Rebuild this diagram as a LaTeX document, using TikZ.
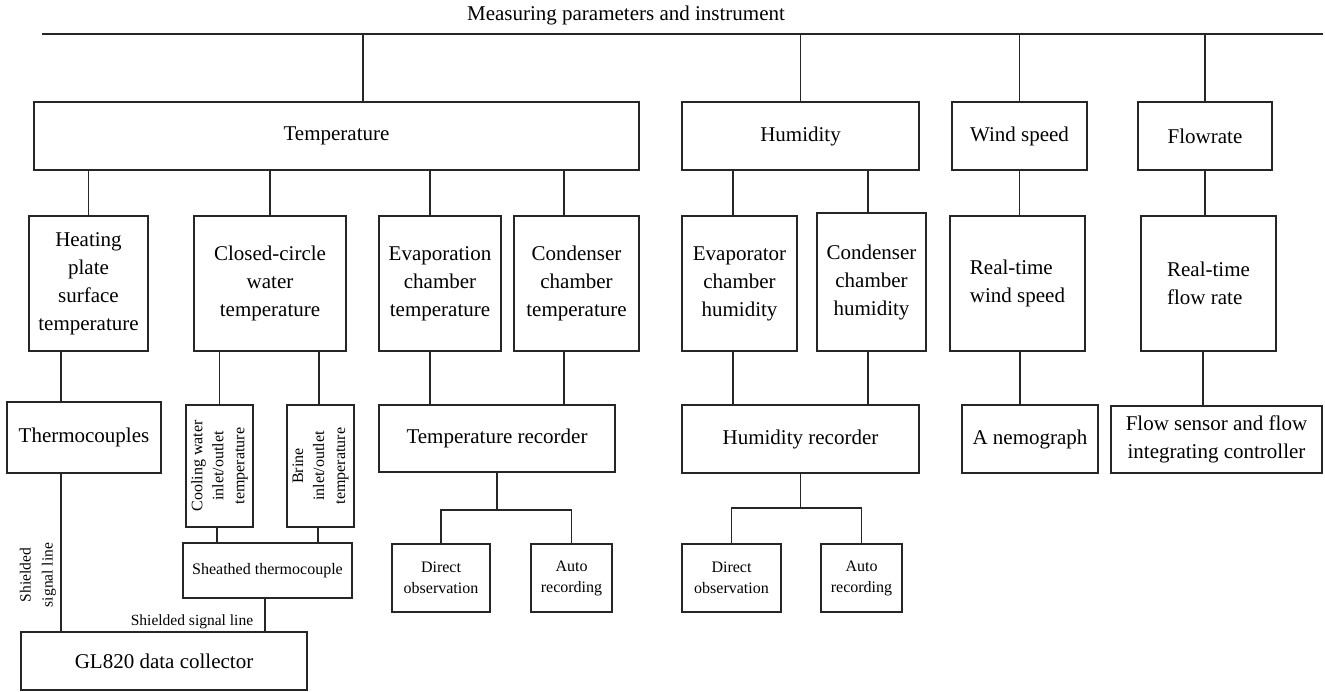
\documentclass[tikz,border=0pt]{standalone}
\usepackage{fontspec}
\setmainfont{Liberation Serif}
\begin{document}
\begin{tikzpicture}[x=1pt,y=-1pt,
  box/.style={draw=black!85, line width=1.1pt, inner sep=0pt, align=center, font=\fontsize{21}{28}\selectfont},
  sbox/.style={box, font=\fontsize{16}{21}\selectfont},
  rtxt/.style={rotate=90, align=center, inner sep=0pt, font=\fontsize{16}{21}\selectfont},
  lab/.style={inner sep=0pt, align=center, font=\fontsize{15.5}{22}\selectfont},
  conn/.style={draw=black!85, line width=1.1pt},
]
\useasboundingbox (0,0) rectangle (1325,691);

% title and bus
\node[inner sep=0pt, font=\fontsize{21}{28}\selectfont] (title) at (626,15) {Measuring parameters and instrument};
\coordinate (busL) at (42,34);
\coordinate (busR) at (1323,34);
\coordinate (xT) at (363,34);

% level 1
\node[box, minimum width=605pt, minimum height=68pt] (temp) at (336.5,136) {Temperature};
\node[box, minimum width=237pt, minimum height=68pt] (hum) at (800.5,136) {Humidity};
\node[box, minimum width=135pt, minimum height=68pt] (wind) at (1019.5,136) {Wind speed};
\node[box, minimum width=134pt, minimum height=68pt] (flow) at (1205,136) {Flowrate};

% level 2
\node[box, minimum width=119pt, minimum height=135pt] (heat) at (88.5,283.5) {Heating\\plate\\surface\\temperature};
\node[box, minimum width=152pt, minimum height=135pt] (closed) at (270,283.5) {Closed-circle\\water\\temperature};
\node[box, minimum width=122pt, minimum height=135pt] (evap) at (440,283.5) {Evaporation\\chamber\\temperature};
\node[box, minimum width=125pt, minimum height=135pt] (cond) at (576.5,283.5) {Condenser\\chamber\\temperature};
\node[box, minimum width=115pt, minimum height=135pt] (evh) at (739.5,283.5) {Evaporator\\chamber\\humidity};
\node[box, minimum width=109pt, minimum height=138pt] (cdh) at (871.5,282) {Condenser\\chamber\\humidity};
\node[box, minimum width=135pt, minimum height=135pt, align=left] (rtw) at (1017.5,283.5) {Real-time\\wind speed};
\node[box, minimum width=135pt, minimum height=135pt, align=left] (rtf) at (1208.5,283.5) {Real-time\\flow rate};

% level 3
\node[box, minimum width=154pt, minimum height=71pt] (thermo) at (84,437.5) {Thermocouples};
\node[sbox, minimum width=67pt, minimum height=122pt] (cool) at (219.5,466) {};
\node[rtxt] (coolt) at (cool.center) {Cooling water\\inlet/outlet\\temperature};
\node[sbox, minimum width=67pt, minimum height=122pt] (brine) at (320.5,466) {};
\node[rtxt] (brinet) at (brine.center) {Brine\\inlet/outlet\\temperature};
\node[box, minimum width=236pt, minimum height=67pt] (trec) at (497,438.5) {Temperature recorder};
\node[box, minimum width=237pt, minimum height=68pt] (hrec) at (800.5,439) {Humidity recorder};
\node[box, minimum width=136pt, minimum height=68pt] (anemo) at (1030,439) {A nemograph};
\node[box, minimum width=211pt, minimum height=67pt] (fsens) at (1216.5,439.5) {Flow sensor and flow\\integrating controller};

% level 4
\node[sbox, minimum width=169pt, minimum height=55pt] (sheath) at (267.5,570.5) {Sheathed thermocouple};
\node[sbox, minimum width=98pt, minimum height=68pt] (do1) at (441,578) {Direct\\observation};
\node[sbox, minimum width=81pt, minimum height=68pt] (ar1) at (571.5,578) {Auto\\recording};
\node[sbox, minimum width=99pt, minimum height=68pt] (do2) at (731.5,578) {Direct\\observation};
\node[sbox, minimum width=81pt, minimum height=68pt] (ar2) at (861.5,578) {Auto\\recording};
\node[box, minimum width=286pt, minimum height=58pt] (gl) at (164,661) {GL820 data collector};

% labels
\node[lab] (sl1) at (192,622) {Shielded signal line};
\node[lab, rotate=90] (sl2) at (38,575) {Shielded\\signal line};

% helper x positions
\coordinate (xE) at (430,0);
\coordinate (xC) at (564,0);
\coordinate (xEH) at (733,0);
\coordinate (xCH) at (868,0);
\coordinate (xTh) at (61,0);
\coordinate (xB) at (319,0);
\coordinate (xW) at (1020,0);
\coordinate (xF) at (1203,0);
\coordinate (xCo) at (217,0);
\coordinate (xBr) at (318,0);
\coordinate (xS) at (265,0);
\coordinate (j1) at (497,510);
\coordinate (j2) at (800.5,508);

% connectors
\draw[conn] (busL) -- (busR);
\draw[conn] (xT) -- (xT |- temp.north);
\draw[conn] (hum.north) -- (hum.north |- busL);
\draw[conn] (wind.north) -- (wind.north |- busL);
\draw[conn] (flow.north) -- (flow.north |- busL);

\draw[conn] (heat.north) -- (heat.north |- temp.south);
\draw[conn] (closed.north) -- (closed.north |- temp.south);
\draw[conn] (xE |- temp.south) -- (xE |- evap.north);
\draw[conn] (xC |- temp.south) -- (xC |- cond.north);
\draw[conn] (xEH |- hum.south) -- (xEH |- evh.north);
\draw[conn] (xCH |- hum.south) -- (xCH |- cdh.north);
\draw[conn] (wind.south) -- (wind.south |- rtw.north);
\draw[conn] (flow.south) -- (flow.south |- rtf.north);

\draw[conn] (xTh |- heat.south) -- (xTh |- thermo.north);
\draw[conn] (xTh |- thermo.south) -- (xTh |- gl.north);
\draw[conn] (cool.north) -- (cool.north |- closed.south);
\draw[conn] (xB |- closed.south) -- (xB |- brine.north);
\draw[conn] (xE |- evap.south) -- (xE |- trec.north);
\draw[conn] (xC |- cond.south) -- (xC |- trec.north);
\draw[conn] (xEH |- evh.south) -- (xEH |- hrec.north);
\draw[conn] (xCH |- cdh.south) -- (xCH |- hrec.north);
\draw[conn] (xW |- rtw.south) -- (xW |- anemo.north);
\draw[conn] (xF |- rtf.south) -- (xF |- fsens.north);

\draw[conn] (xCo |- cool.south) -- (xCo |- sheath.north);
\draw[conn] (xBr |- brine.south) -- (xBr |- sheath.north);
\draw[conn] (xS |- sheath.south) -- (xS |- gl.north);

\draw[conn] (trec.south) -- (j1);
\draw[conn] (do1.north) |- (j1) -| (ar1.north);
\draw[conn] (hrec.south) -- (j2);
\draw[conn] (do2.north) |- (j2) -| (ar2.north);
\end{tikzpicture}
\end{document}
